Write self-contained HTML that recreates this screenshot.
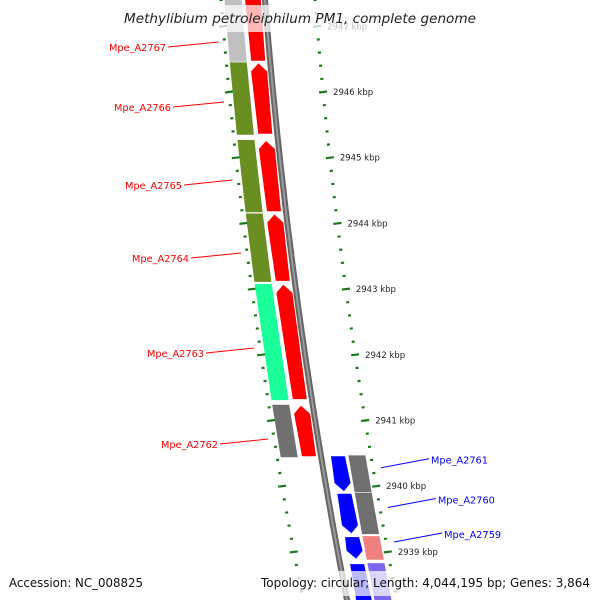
<!DOCTYPE html>
<html><head><meta charset="utf-8"><style>
body{margin:0;background:#fff}
svg{display:block;font-family:"DejaVu Sans","Liberation Sans",sans-serif}
</style></head><body>
<svg id="map" width="600" height="600" viewBox="0 0 600 600" xmlns="http://www.w3.org/2000/svg">
<g id="ticks"></g>
<g id="backbone"></g>
<g id="genes"></g>
<g id="labels"></g>
<rect x="0" y="5" width="600" height="27" fill="#fff" opacity="0.72"/>
<text x="300" y="23" text-anchor="middle" font-size="13" font-style="italic" fill="#222" textLength="352" lengthAdjust="spacingAndGlyphs">Methylibium petroleiphilum PM1, complete genome</text>
<rect x="0" y="571" width="600" height="25" fill="#fff" opacity="0.72"/>
<text x="9" y="587" font-size="12" fill="#111" textLength="134" lengthAdjust="spacingAndGlyphs">Accession: NC_008825</text>
<text x="261" y="587" font-size="12" fill="#111" textLength="329" lengthAdjust="spacingAndGlyphs">Topology: circular; Length: 4,044,195 bp; Genes: 3,864</text>
</svg>
<script>
const NS="http://www.w3.org/2000/svg";
// data
const tickStartKbp=2938.0, tickEndKbp=2947.6;
const majorTicks=[2947,2946,2945,2944,2943,2942,2941,2940,2939];
const fwdNames=["Mpe_A2767","Mpe_A2766","Mpe_A2765","Mpe_A2764","Mpe_A2763","Mpe_A2762"];
const fwdStart=[2946.46,2945.35,2944.17,2943.11,2941.31,2940.44];
const fwdEnd=[2947.6,2946.45,2945.27,2944.15,2943.08,2941.24];
const fwdFeatColor=["#c0c0c0","#6b8e23","#6b8e23","#6b8e23","#1aff9a","#707070"];
const fwdLabelY=[47,107,185,258,353,444];
const fwdLabelX=[166,171,182,189,204,218];
const revNames=["Mpe_A2761","Mpe_A2760","Mpe_A2759","Mpe_A2758"];
const revStart=[2939.91,2939.27,2938.88,2938.0];
const revEnd=[2940.47,2939.90,2939.24,2938.83];
const revFeatColor=["#707070","#707070","#f08080","#7b68ee"];
const revGeneColor=["#0000ff","#0000ff","#0000ff","#0000ff"];
const revShown=[true,true,true,false];

function Y(k){return 92+(2946-k)*65.7;}
function X(y){return 265+0.079*y+9.6e-5*y*y;}
function el(tag,attrs,parent){const e=document.createElementNS(NS,tag);for(const k in attrs)e.setAttribute(k,attrs[k]);parent.appendChild(e);return e;}
const gT=document.getElementById('ticks'),gB=document.getElementById('backbone'),gG=document.getElementById('genes'),gL=document.getElementById('labels');

let pts=[];for(let y=-5;y<=605;y+=5)pts.push((X(y)).toFixed(1)+","+y);
let bb=el('polyline',{points:pts.join(" "),fill:"none",stroke:"#666","stroke-width":6},gB);


let bb2=el('polyline',{points:pts.join(" "),fill:"none",stroke:"#9a9a9a","stroke-width":2},gB);



// ticks every 200 bp
for(let i=Math.round(tickStartKbp*5);i<=Math.round(tickEndKbp*5);i++){
  const k=i/5,y=Y(k);if(y<-5||y>605)continue;
  const major=(i%5===0);
  const len=major?8:3;
  [50,-44].forEach(off=>{
    const x=X(y)+off;
    const t=el('line',{x1:x-len/2,y1:y+len*0.06,x2:x+len/2,y2:y-len*0.06,stroke:"#1a7a1a","stroke-width":2.2},gT);
    
    
  });
  if(major&&majorTicks.includes(Math.round(k))){
    const lab=el('text',{x:X(y)+60,y:y+3,"font-size":8.5,fill:"#222"},gT);
    lab.textContent=Math.round(k)+" kbp";
    
    
  }
}

function bar(y1,y2,c,w,color,name){
  const p=`${X(y1)+c-w/2},${y1} ${X(y1)+c+w/2},${y1} ${X(y2)+c+w/2},${y2} ${X(y2)+c-w/2},${y2}`;
  const e=el('polygon',{points:p,fill:color},gG);
  
  
}
function arrow(y1,y2,c,w,color,up,name){
  let p;
  if(up){p=[[X(y1)+c,y1],[X(y1+8)+c+w/2+1,y1+8],[X(y2)+c+w/2,y2],[X(y2)+c-w/2,y2],[X(y1+8)+c-w/2-1,y1+8]];}
  else{p=[[X(y1)+c-w/2,y1],[X(y1)+c+w/2,y1],[X(y2-8)+c+w/2+1,y2-8],[X(y2)+c,y2],[X(y2-8)+c-w/2-1,y2-8]];}
  const e=el('polygon',{points:p.map(q=>q[0].toFixed(1)+","+q[1].toFixed(1)).join(" "),fill:color},gG);
  
  
}
fwdNames.forEach((n,i)=>{
  const y1=Y(fwdEnd[i]),y2=Y(fwdStart[i]);
  bar(y1,y2,-32,17,fwdFeatColor[i],'feature-'+n.toLowerCase());
  arrow(y1+1,y2-1,-12,14,"#ff0000",true,'gene-'+n.toLowerCase());
  const ym=fwdLabelY[i], tx=fwdLabelX[i];
  const lab=el('text',{x:tx,y:ym+4,"text-anchor":"end","font-size":10,fill:"#ff0000",textLength:57,lengthAdjust:"spacingAndGlyphs"},gL);
  lab.textContent=n;
  
  
  const ln=el('line',{x1:tx+2,y1:ym,x2:X(ym-5)-50,y2:ym-5,stroke:"#ff0000","stroke-width":1},gL);
  
  
});
revNames.forEach((n,i)=>{
  const y1=Y(revEnd[i]),y2=Y(revStart[i]);
  bar(y1,y2,36,17,revFeatColor[i],'feature-'+n.toLowerCase());
  arrow(y1+1,y2-1,17,14,revGeneColor[i],false,'gene-'+n.toLowerCase());
  if(!revShown[i])return;
  const ym=(y1+y2)/2;
  const lx=X(ym)+57;
  const tx=lx+48;
  const lab=el('text',{x:tx+2,y:ym-10,"font-size":10,fill:"#0000ff",textLength:57,lengthAdjust:"spacingAndGlyphs"},gL);
  lab.textContent=n;
  
  
  const ln=el('line',{x1:lx,y1:ym-6,x2:tx,y2:ym-15,stroke:"#0000ff","stroke-width":1},gL);
  
  
});
</script>
</body></html>
